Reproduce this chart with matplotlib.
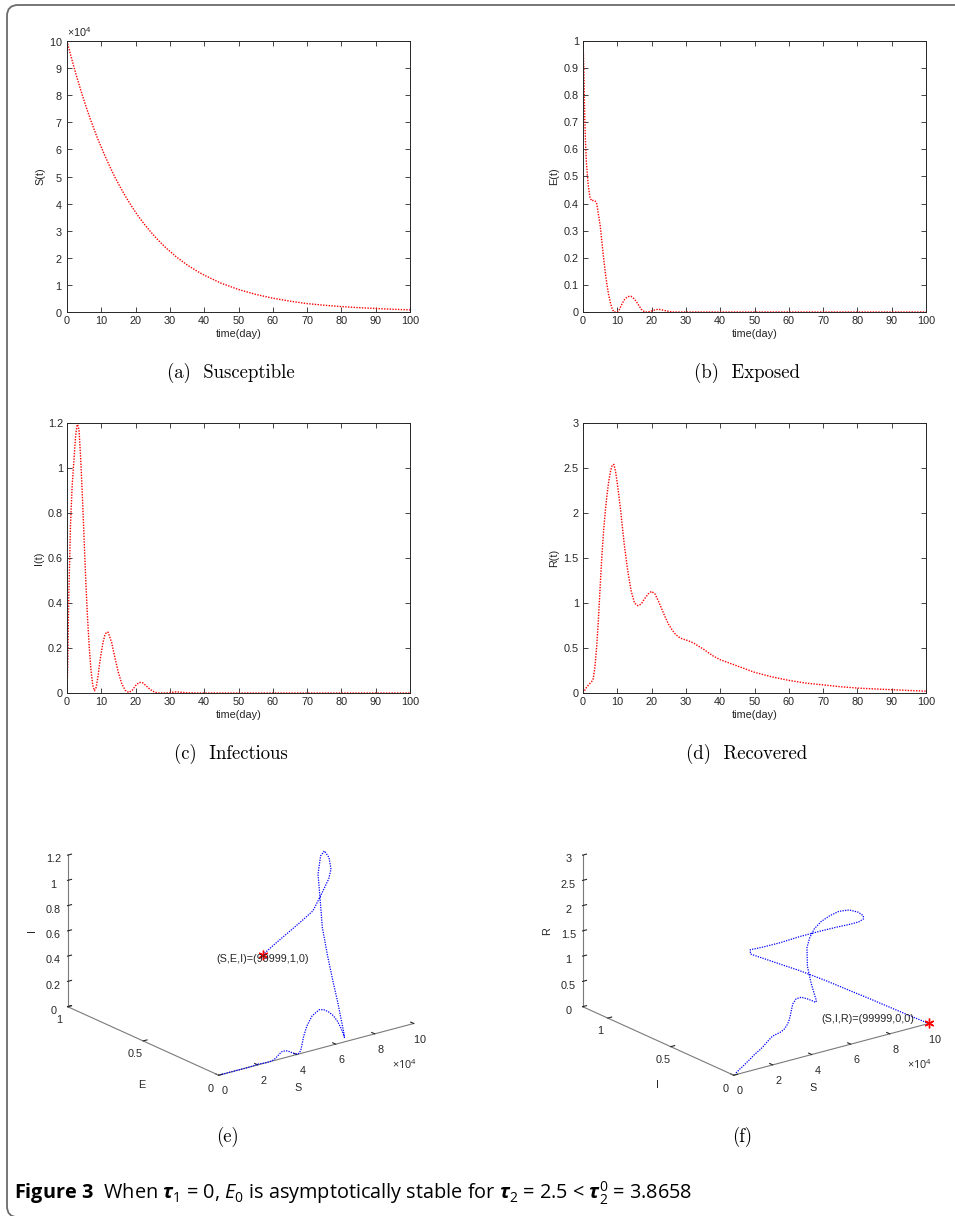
import numpy as np
import matplotlib
matplotlib.use('Agg')
import matplotlib.pyplot as plt
from matplotlib.patches import FancyBboxPatch
from matplotlib.ticker import MultipleLocator, ScalarFormatter, FuncFormatter

plt.rcParams['font.family'] = ['Liberation Sans', 'DejaVu Sans']
plt.rcParams['mathtext.fontset'] = 'custom'
plt.rcParams['mathtext.rm'] = 'Open Sans'
plt.rcParams['mathtext.it'] = 'Open Sans:italic'
plt.rcParams['mathtext.bf'] = 'Open Sans:bold'
plt.rcParams['mathtext.bfit'] = 'Open Sans:italic:bold'

# time grid (days) and the four compartments sampled on it
t_day = [0, 0.25, 0.5, 0.75, 1, 1.5, 2, 2.5, 3, 3.5, 4, 4.5, 5, 5.5, 6, 6.5,
         7, 7.5, 8, 8.5, 9, 9.5, 10, 10.5, 11, 11.5, 12, 13, 14, 15, 16, 17,
         18, 19, 20, 21, 22, 23, 24, 25, 26, 27, 28, 29, 30, 32, 35, 38, 40,
         45, 50, 55, 60, 65, 70, 75, 80, 85, 90, 95, 100]

# S(t) in units of 1e4
S_1e4 = [10.0, 9.88, 9.75, 9.63, 9.51, 9.28, 9.05, 8.83, 8.61, 8.40, 8.19,
         7.99, 7.79, 7.60, 7.41, 7.23, 7.05, 6.88, 6.71, 6.54, 6.38, 6.23,
         6.08, 5.93, 5.78, 5.64, 5.50, 5.23, 4.97, 4.73, 4.50, 4.28, 4.07,
         3.87, 3.68, 3.50, 3.33, 3.17, 3.02, 2.87, 2.73, 2.60, 2.47, 2.35,
         2.24, 2.02, 1.74, 1.50, 1.36, 1.06, 0.83, 0.65, 0.51, 0.40, 0.31,
         0.25, 0.20, 0.16, 0.13, 0.10, 0.08]

E_t = [1.0, 0.90, 0.72, 0.62, 0.55, 0.47, 0.425, 0.41, 0.412, 0.41, 0.40,
       0.36, 0.32, 0.26, 0.20, 0.145, 0.10, 0.062, 0.034, 0.012, 0.0, 0.0,
       0.0, 0.006, 0.02, 0.033, 0.044, 0.057, 0.058, 0.048, 0.03, 0.01, 0.0,
       0.0, 0.004, 0.008, 0.01, 0.008, 0.005, 0.002, 0.0, 0.0, 0.0, 0.0,
       0.0, 0.0, 0.0, 0.0, 0.0, 0.0, 0.0, 0.0, 0.0, 0.0, 0.0, 0.0, 0.0,
       0.0, 0.0, 0.0, 0.0]

I_t = [0.0, 0.15, 0.42, 0.57, 0.74, 0.92, 1.03, 1.14, 1.20, 1.17, 1.04,
       0.87, 0.68, 0.49, 0.33, 0.20, 0.10, 0.035, 0.01, 0.025, 0.07, 0.13,
       0.18, 0.225, 0.255, 0.27, 0.27, 0.225, 0.155, 0.09, 0.04, 0.012,
       0.002, 0.012, 0.033, 0.047, 0.046, 0.033, 0.019, 0.008, 0.002, 0.0,
       0.0, 0.0, 0.002, 0.005, 0.001, 0.0, 0.0, 0.0, 0.0, 0.0, 0.0, 0.0,
       0.0, 0.0, 0.0, 0.0, 0.0, 0.0, 0.0]

R_t = [0.0, 0.015, 0.03, 0.045, 0.06, 0.085, 0.105, 0.125, 0.16, 0.30, 0.52,
       0.82, 1.18, 1.52, 1.80, 2.02, 2.20, 2.35, 2.46, 2.53, 2.54, 2.46,
       2.33, 2.18, 2.02, 1.84, 1.66, 1.37, 1.14, 1.00, 0.97, 0.99, 1.05,
       1.10, 1.13, 1.10, 1.02, 0.93, 0.84, 0.76, 0.70, 0.65, 0.62, 0.60,
       0.59, 0.56, 0.49, 0.41, 0.37, 0.30, 0.23, 0.18, 0.14, 0.11, 0.09,
       0.07, 0.055, 0.045, 0.037, 0.028, 0.02]

S_t = np.array(S_1e4) * 1e4

W, H = 955, 1216
FS = 7.8
INK = '#262626'
fig = plt.figure(figsize=(W / 100, H / 100), dpi=100)

# outer frame with rounded corners (top and left edges visible)
frame = FancyBboxPatch((0.07, -0.012), 10.0, 12.122,
                       boxstyle='round,pad=0,rounding_size=0.11',
                       transform=fig.dpi_scale_trans, fill=False,
                       edgecolor='#6b6b6b', lw=1.3)
fig.patches.append(frame)


def px_rect(left, top, right, bottom):
    return [left / W, 1 - bottom / H, (right - left) / W, (bottom - top) / H]


def px_text(x, y, s, **kw):
    return fig.text(x / W, 1 - y / H, s, **kw)


g_fmt = FuncFormatter(lambda v, _: '%g' % round(v, 6))


def draw_series(ax, values, ylabel, ymax, ystep):
    ax.plot(t_day, values, color='red', ls=(0, (1, 1)), lw=1.0)
    ax.set_xlim(0, 100)
    ax.set_ylim(0, ymax)
    ax.xaxis.set_major_locator(MultipleLocator(10))
    ax.yaxis.set_major_locator(MultipleLocator(ystep))
    ax.xaxis.set_major_formatter(g_fmt)
    ax.yaxis.set_major_formatter(g_fmt)
    ax.tick_params(direction='in', top=True, right=True, length=3.5,
                   width=0.6, labelsize=FS, pad=3, color=INK,
                   labelcolor=INK)
    for sp in ax.spines.values():
        sp.set_linewidth(0.7)
        sp.set_color(INK)
    ax.set_xlabel('time(day)', fontsize=FS, labelpad=2, color=INK)
    ax.set_ylabel(ylabel, fontsize=FS, labelpad=3, color=INK)


ax_a = fig.add_axes(px_rect(67, 41, 410, 312))
draw_series(ax_a, S_t, 'S(t)', 1e5, 1e4)
sfmt = ScalarFormatter(useMathText=True)
sfmt.set_powerlimits((4, 4))
ax_a.yaxis.set_major_formatter(sfmt)
ax_a.yaxis.get_offset_text().set_fontsize(FS)

ax_b = fig.add_axes(px_rect(583, 41, 926, 312))
draw_series(ax_b, E_t, 'E(t)', 1.0, 0.1)

ax_c = fig.add_axes(px_rect(67, 423, 410, 693))
draw_series(ax_c, I_t, 'I(t)', 1.2, 0.2)

ax_d = fig.add_axes(px_rect(583, 423, 926, 693))
draw_series(ax_d, R_t, 'R(t)', 3.0, 0.5)


def draw_phase(ax, ys, zs, ymax, zmax, ystep, zstep):
    ax.set_proj_type('ortho')
    ax.plot(S_t, ys, zs, color='blue', ls=(0, (1, 1)), lw=0.9)
    # starting state marked with an asterisk
    ax.plot([S_t[0]], [ys[0]], [zs[0]], marker=(6, 2, 0), color='red',
            ms=7, mew=1.0, ls='none')
    ax.set_xlim(0, 1e5)
    ax.set_ylim(0, ymax)
    ax.set_zlim(0, zmax)
    ax.set_xticks(np.arange(0, 1e5 + 1, 2e4))
    ax.set_yticks(np.arange(0, ymax + 1e-9, ystep))
    ax.set_zticks(np.arange(0, zmax + 1e-9, zstep))
    sf = ScalarFormatter(useMathText=True)
    sf.set_powerlimits((4, 4))
    ax.xaxis.set_major_formatter(sf)
    ax.xaxis.offsetText.set_visible(False)
    ax.yaxis.set_major_formatter(g_fmt)
    ax.zaxis.set_major_formatter(g_fmt)
    ax.grid(False)
    for axis in (ax.xaxis, ax.yaxis, ax.zaxis):
        axis.set_pane_color((1, 1, 1, 0))
        axis.pane.set_edgecolor((1, 1, 1, 0))
        axis.line.set_color('#7a7a7a')
        axis.line.set_linewidth(0.8)
        axis._axinfo['tick']['inward_factor'] = 0.0
        axis._axinfo['tick']['outward_factor'] = 0.25
        axis._axinfo['tick']['color'] = '#7a7a7a'
    ax.tick_params(labelsize=FS, colors=INK, pad=-1.5)
    ax.view_init(elev=20.3, azim=-127.4)
    ax.set_box_aspect((1.52, 1.54, 1.0), zoom=0.89)


ax_e = fig.add_axes(px_rect(25, 735, 445, 1155), projection='3d')
draw_phase(ax_e, E_t, I_t, 1.0, 1.2, 0.5, 0.2)
ax_e.text(S_t[0], E_t[0], -0.035, '(S,E,I)=(99999,1,0)', fontsize=FS,
          ha='center', va='center', color=INK)

ax_f = fig.add_axes(px_rect(540, 735, 960, 1155), projection='3d')
draw_phase(ax_f, I_t, R_t, 1.2, 3.0, 0.5, 0.5)
ax_f.text(0.924e5, 0, 0.16, '(S,I,R)=(99999,0,0)', fontsize=FS,
          ha='right', va='center', color=INK)

# axis titles of the phase portraits
for dx, names in ((0, ('S', 'E', 'I')), (515, ('S', 'I', 'R'))):
    px_text(298 + dx, 1088, names[0], fontsize=FS, ha='center', va='center', color=INK)
    px_text(142 + dx, 1085, names[1], fontsize=FS, ha='center', va='center', color=INK)
    px_text(32 + dx, 931, names[2], fontsize=FS, ha='center', va='center',
            rotation=90, color=INK)
    px_text(392 + dx, 1064, r'$\times10^{4}$', fontsize=FS, ha='left',
            va='center', color=INK)

# sub-figure captions
sub = [('(a)  Susceptible', 231, 373), ('(b)  Exposed', 747, 373),
       ('(c)  Infectious', 231, 754), ('(d)  Recovered', 747, 754),
       ('(e)', 227, 1137), ('(f)', 742, 1137)]
for txt, x, y in sub:
    px_text(x, y, txt, family='cmr10', fontsize=13.5, ha='center', va='center')

caption = (r'$\mathbf{Figure\ 3}$  When $\boldsymbol{\tau}_1$ = 0, $E_0$ is '
           r'asymptotically stable for $\boldsymbol{\tau}_2$ = 2.5 < '
           r'$\boldsymbol{\tau}_2^0$ = 3.8658')
px_text(14, 1193, caption, family='Open Sans', fontsize=14.3, ha='left', va='center')

fig.savefig('out.png', dpi=100)
